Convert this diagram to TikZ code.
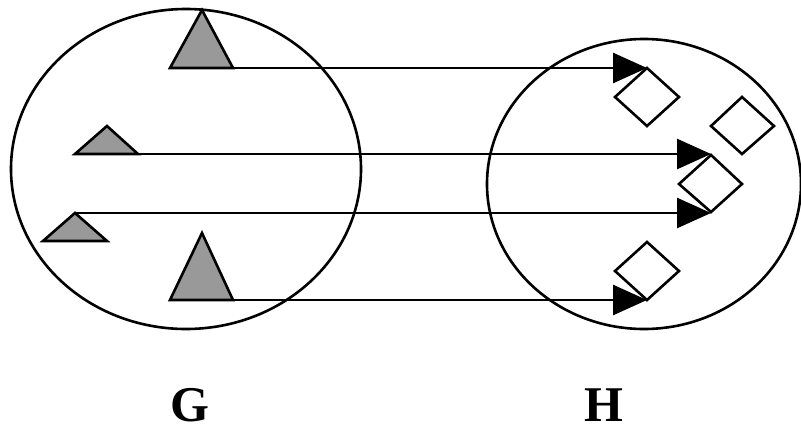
\documentclass[tikz,border=0pt]{standalone}
\usepackage{fontspec}
\setmainfont{Liberation Serif}
\usetikzlibrary{arrows.meta}
\definecolor{tri}{HTML}{999999}
\begin{document}
\begin{tikzpicture}[x=1pt,y=-1pt,
  lw/.style={line width=2.6pt},
  setring/.style={lw,draw=black},
  trishape/.style={lw,draw=black,fill=tri,line join=miter},
  dia/.style={lw,draw=black,fill=white,line join=miter},
  maparrow/.style={lw,-{Triangle[length=34pt,width=30pt]}},
  setlabel/.style={font=\bfseries\fontsize{50}{50}\selectfont,inner sep=3pt}]
\useasboundingbox (0,0) rectangle (801,429);
% sets
\draw[setring] (186,169) ellipse [x radius=175, y radius=160];
\draw[setring] (644,184) ellipse [x radius=157, y radius=145];
% triangles in G
\coordinate (t1) at (233,68);
\coordinate (t2) at (138,154);
\coordinate (t3) at (75,213);
\coordinate (t4) at (233,300);
\draw[trishape] (202,10) -- (170,68) -- (t1) -- cycle;
\draw[trishape] (107,126) -- (75,154) -- (t2) -- cycle;
\draw[trishape] (t3) -- (43,241) -- (107,241) -- cycle;
\draw[trishape] (202,233) -- (170,300) -- (t4) -- cycle;
% diamonds in H
\draw[dia] (647,68) -- (679,97) -- (647,126) -- (615,97) -- cycle;
\draw[dia] (742,97) -- (774,126) -- (742,154) -- (711,126) -- cycle;
\draw[dia] (711,155) -- (742,184) -- (711,212) -- (679,184) -- cycle;
\draw[dia] (647,242) -- (679,271) -- (647,300) -- (615,271) -- cycle;
\coordinate (d1) at (647,68);
\coordinate (d2) at (711,154);
\coordinate (d3) at (711,213);
\coordinate (d4) at (647,300);
% mappings
\draw[maparrow] (t1) -- (d1);
\draw[maparrow] (t2) -- (d2);
\draw[maparrow] (t3) -- (d3);
\draw[maparrow] (t4) -- (d4);
% labels
\node[setlabel] (G) at (190,405) {G};
\node[setlabel] (H) at (604,405) {H};
\end{tikzpicture}
\end{document}
